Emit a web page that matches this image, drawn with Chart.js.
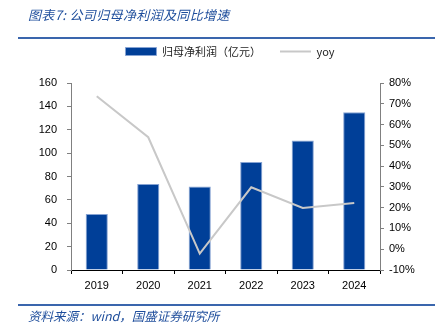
<!DOCTYPE html>
<html>
<head>
<meta charset="utf-8">
<script src="https://cdn.jsdelivr.net/npm/chart.js@4/dist/chart.umd.min.js"></script>
<style>
  html, body { margin: 0; padding: 0; background: #fff; }
  #wrap { position: relative; width: 441px; height: 328px; overflow: hidden; }
  #c { position: absolute; left: 0; top: 0; }
  .rule { position: absolute; left: 18px; width: 417px; height: 2px; background: #3a66ad; }
  .cap { position: absolute; left: 28px; font-family: "Noto Sans CJK SC", sans-serif; font-style: italic; color: #1f4e9c; white-space: nowrap; }
  #title { top: 5px; font-size: 13px; line-height: 20px; letter-spacing: 0.35px; }
  #src { top: 307px; font-size: 12.5px; line-height: 18px; }
</style>
</head>
<body>
<div id="wrap">
  <canvas id="c" width="441" height="328"></canvas>
  <div id="title" class="cap">图表7: 公司归母净利润及同比增速</div>
  <div class="rule" style="top:37px"></div>
  <div class="rule" style="top:304px"></div>
  <div id="src" class="cap">资料来源：wind，国盛证券研究所</div>
</div>
<script>
// Fiscal years on the category axis
const years = ['2019', '2020', '2021', '2022', '2023', '2024'];
// Net profit attributable to parent, 100 million yuan
const netProfit = [48, 73.5, 71.5, 92.5, 110.8, 135];
// Year-over-year growth, percent
const yoyGrowth = [73.6, 53.9, -2.1, 29.8, 19.9, 22.3];
// Series names shown in the legend
const seriesNames = ['归母净利润（亿元）', 'yoy'];

const tickFont = { family: '"Liberation Sans", Arial, sans-serif', size: 11 };

// Pin the legend block height so the plot area starts where intended
const legendHeight = {
  id: 'legendHeight',
  beforeInit(chart) {
    const lg = chart.legend;
    if (!lg) return;
    const fit = lg.fit.bind(lg);
    lg.fit = function () { fit(); this.height = 56; };
  }
};

new Chart(document.getElementById('c'), {
  data: {
    labels: years,
    datasets: [
      {
        type: 'bar',
        label: seriesNames[0],
        data: netProfit,
        backgroundColor: '#003f98',
        borderColor: '#86a3d3',
        borderWidth: 1,
        barPercentage: 0.43,
        categoryPercentage: 1,
        yAxisID: 'y',
        order: 1
      },
      {
        type: 'line',
        label: seriesNames[1],
        data: yoyGrowth,
        borderColor: '#c8c8c8',
        backgroundColor: '#c8c8c8',
        borderWidth: 2,
        pointRadius: 0,
        tension: 0,
        yAxisID: 'y1',
        order: 0
      }
    ]
  },
  options: {
    responsive: false,
    animation: false,
    layout: { padding: { top: 27, left: 19, right: 0, bottom: 0 } },
    plugins: {
      tooltip: { enabled: false },
      legend: {
        position: 'top',
        labels: {
          usePointStyle: true,
          pointStyleWidth: 31,
          boxWidth: 31,
          boxHeight: 8,
          padding: 19,
          color: '#222',
          font: { family: '"Noto Sans CJK SC", "Liberation Sans", sans-serif', size: 11 },
          sort: (a, b) => a.datasetIndex - b.datasetIndex,
          generateLabels(chart) {
            const items = Chart.defaults.plugins.legend.labels.generateLabels(chart);
            items.forEach(it => { it.pointStyle = it.datasetIndex === 0 ? 'rect' : 'line'; });
            return items;
          }
        }
      }
    },
    scales: {
      x: {
        type: 'category',
        offset: true,
        grid: { offset: true, drawOnChartArea: false, tickLength: 4, color: '#000', lineWidth: 1 },
        border: { color: '#000', width: 1 },
        ticks: { padding: 5, color: '#000', font: tickFont, maxRotation: 0 },
        afterFit(s) { s.height = 58; }
      },
      y: {
        position: 'left',
        min: 0,
        max: 160,
        grid: { drawOnChartArea: false, tickLength: 4, color: '#808080' },
        border: { color: '#808080', width: 1 },
        ticks: { stepSize: 20, padding: 10, color: '#000', font: tickFont },
        afterFit(s) { s.width = 52; }
      },
      y1: {
        position: 'right',
        min: -10,
        max: 80,
        grid: { drawOnChartArea: false, tickLength: 4, color: '#808080' },
        border: { color: '#808080', width: 1 },
        ticks: { stepSize: 10, padding: 5, color: '#000', font: tickFont, callback: v => v + '%' },
        afterFit(s) { s.width = 61; }
      }
    }
  },
  plugins: [legendHeight]
});
</script>
</body>
</html>
